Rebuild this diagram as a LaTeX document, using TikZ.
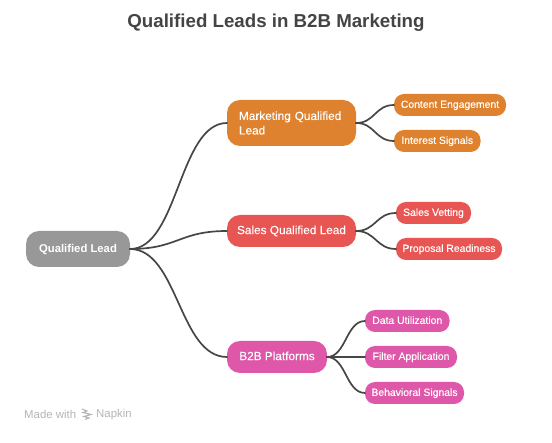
\documentclass[tikz,border=0pt]{standalone}
\usepackage{fontspec}
\setmainfont{Liberation Sans}
\newfontfamily\medfont[FakeBold=0.25]{Liberation Sans}
\definecolor{cOrange}{HTML}{DF822F}
\definecolor{cRed}{HTML}{E85654}
\definecolor{cPink}{HTML}{DE57A8}
\definecolor{cGrey}{HTML}{989898}
\definecolor{cLine}{HTML}{464646}
\definecolor{cTitle}{HTML}{444444}
\definecolor{cMark}{HTML}{B4B4B4}
\tikzset{
  box/.style={rounded corners=#1,inner sep=0pt,outer sep=0pt,text=white,align=center,anchor=west},
  mainbox/.style={box=13pt,minimum height=32pt,font=\medfont\fontsize{11.8}{14.5}\selectfont},
  leafbox/.style={box=10pt,minimum height=22pt,text height=8pt,text depth=2.2pt,font=\medfont\fontsize{10.4}{12}\selectfont},
  link/.style={draw=cLine,line width=1.7pt,line cap=round},
}
\newcommand{\curve}[3]{\draw[link] (#1.east) .. controls +(#3,0) and +(-#3,0) .. (#2.west);}
\begin{document}
\begin{tikzpicture}[x=1pt,y=-1pt]
\useasboundingbox (0,0) rectangle (552,443);
\node[font=\fontsize{18.7}{20}\selectfont\bfseries,text=cTitle] (title) at (276,22.5) {Qualified Leads in B2B Marketing};

\node[mainbox,fill=cGrey,minimum width=104pt,minimum height=36pt,text height=8.6pt,text depth=2.4pt,font=\fontsize{11.3}{14.5}\selectfont\bfseries] (root) at (26,249) {Qualified Lead};
\node[mainbox,fill=cOrange,minimum width=129pt,minimum height=46pt,align=left,text width=105pt] (mql) at (227,123) {Marketing Qualified\\Lead};
\node[mainbox,fill=cRed,minimum width=129pt,text height=8.6pt,text depth=2.4pt] (sql) at (227,231) {Sales Qualified Lead};
\node[mainbox,fill=cPink,minimum width=100pt,text height=8.6pt,text depth=2.4pt] (b2b) at (227,357) {B2B Platforms};

\node[leafbox,fill=cOrange,minimum width=112pt] (ce) at (394,105) {Content Engagement};
\node[leafbox,fill=cOrange,minimum width=86.5pt] (is) at (394,141) {Interest Signals};
\node[leafbox,fill=cRed,minimum width=75pt] (sv) at (396,213) {Sales Vetting};
\node[leafbox,fill=cRed,minimum width=106pt] (pr) at (396,249) {Proposal Readiness};
\node[leafbox,fill=cPink,minimum width=84.5pt] (du) at (365,321) {Data Utilization};
\node[leafbox,fill=cPink,minimum width=92pt] (fa) at (365,357) {Filter Application};
\node[leafbox,fill=cPink,minimum width=99pt] (bs) at (365,393) {Behavioral Signals};

\curve{root}{mql}{48}
\curve{root}{sql}{48}
\curve{root}{b2b}{48}
\curve{mql}{ce}{19}
\curve{mql}{is}{19}
\curve{sql}{sv}{20}
\curve{sql}{pr}{20}
\curve{b2b}{du}{19}
\curve{b2b}{fa}{19}
\curve{b2b}{bs}{19}

\node[anchor=west,inner sep=0pt,text=cMark,font=\fontsize{11.4}{12}\selectfont] (made) at (24,414.5) {Made with};
\node[anchor=west,inner sep=0pt,text=cMark,font=\fontsize{11.4}{12}\selectfont] (nap) at (96,414.5) {Napkin};
\draw[cMark,line width=1.1pt] (82,409) -- (87,411) -- (83,412.5) -- (91,414.5) -- (84,416.5) -- (89,418) -- (85,419.5);
\end{tikzpicture}
\end{document}
